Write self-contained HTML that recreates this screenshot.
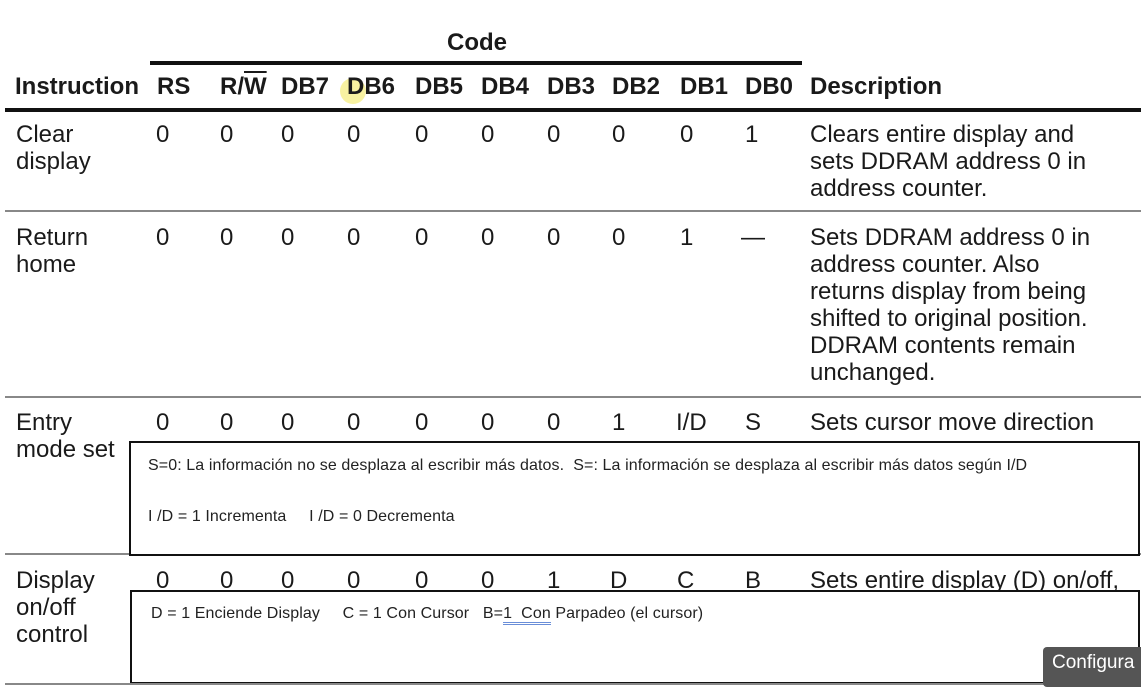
<!DOCTYPE html>
<html><head><meta charset="utf-8"><style>
body{margin:0;width:1141px;height:700px;overflow:hidden;background:#fff;position:relative;font-family:"Liberation Sans",sans-serif;color:#1a1a1a}
.a{position:absolute;white-space:nowrap}
.h{font-weight:bold;font-size:24px;top:73px}
.t{font-size:24px;line-height:27px}
.ln{position:absolute;background:#111}
.sep{position:absolute;left:5px;width:1136px;height:2px;background:#888}
.box{position:absolute;border:2px solid #111;background:#fff;right:1px}
.bx{font-size:16px;letter-spacing:0.1px;color:#222;position:absolute;white-space:nowrap}
</style></head><body>
<div class="a" style="left:340px;top:78px;width:26px;height:26px;border-radius:50%;background:#f6ef8a;opacity:.8"></div>
<div class="a" style="left:447px;top:29px;font-weight:bold;font-size:24px">Code</div>
<div class="ln" style="left:150px;top:61px;width:652px;height:4px"></div>
<div class="a h" style="left:15px">Instruction</div>
<div class="a h" style="left:157px">RS</div>
<div class="a h" style="left:220px">R/<span style="text-decoration:overline">W</span></div>
<div class="a h" style="left:281px">DB7</div>
<div class="a h" style="left:347px">DB6</div>
<div class="a h" style="left:415px">DB5</div>
<div class="a h" style="left:481px">DB4</div>
<div class="a h" style="left:547px">DB3</div>
<div class="a h" style="left:612px">DB2</div>
<div class="a h" style="left:680px">DB1</div>
<div class="a h" style="left:745px">DB0</div>
<div class="a h" style="left:810px">Description</div>
<div class="ln" style="left:5px;top:108px;width:1136px;height:4px"></div>

<!-- row1 -->
<div class="a t" style="left:16px;top:121px">Clear<br>display</div>
<div class="a t" style="top:121px;left:156px">0</div><div class="a t" style="top:121px;left:220px">0</div><div class="a t" style="top:121px;left:281px">0</div><div class="a t" style="top:121px;left:347px">0</div><div class="a t" style="top:121px;left:415px">0</div><div class="a t" style="top:121px;left:481px">0</div><div class="a t" style="top:121px;left:547px">0</div><div class="a t" style="top:121px;left:612px">0</div><div class="a t" style="top:121px;left:680px">0</div><div class="a t" style="top:121px;left:745px">1</div>
<div class="a t" style="left:810px;top:121px">Clears entire display and<br>sets DDRAM address 0 in<br>address counter.</div>
<div class="sep" style="top:210px"></div>

<!-- row2 -->
<div class="a t" style="left:16px;top:224px">Return<br>home</div>
<div class="a t" style="top:224px;left:156px">0</div><div class="a t" style="top:224px;left:220px">0</div><div class="a t" style="top:224px;left:281px">0</div><div class="a t" style="top:224px;left:347px">0</div><div class="a t" style="top:224px;left:415px">0</div><div class="a t" style="top:224px;left:481px">0</div><div class="a t" style="top:224px;left:547px">0</div><div class="a t" style="top:224px;left:612px">0</div><div class="a t" style="top:224px;left:680px">1</div><div class="a t" style="top:224px;left:741px">—</div>
<div class="a t" style="left:810px;top:224px">Sets DDRAM address 0 in<br>address counter. Also<br>returns display from being<br>shifted to original position.<br>DDRAM contents remain<br>unchanged.</div>
<div class="sep" style="top:396px"></div>

<!-- row3 -->
<div class="a t" style="left:16px;top:409px">Entry<br>mode set</div>
<div class="a t" style="top:409px;left:156px">0</div><div class="a t" style="top:409px;left:220px">0</div><div class="a t" style="top:409px;left:281px">0</div><div class="a t" style="top:409px;left:347px">0</div><div class="a t" style="top:409px;left:415px">0</div><div class="a t" style="top:409px;left:481px">0</div><div class="a t" style="top:409px;left:547px">0</div><div class="a t" style="top:409px;left:612px">1</div><div class="a t" style="top:409px;left:676px">I/D</div><div class="a t" style="top:409px;left:745px">S</div>
<div class="a t" style="left:810px;top:409px">Sets cursor move direction</div>
<div class="sep" style="top:553px"></div>
<div class="box" style="left:129px;top:441px;height:111px"></div>
<div class="bx" style="left:148px;top:457px">S=0: La información no se desplaza al escribir más datos.&nbsp; S=: La información se desplaza al escribir más datos según I/D</div>
<div class="bx" style="left:148px;top:508px">I /D = 1 Incrementa &nbsp;&nbsp;&nbsp; I /D = 0 Decrementa</div>

<!-- row4 -->
<div class="a t" style="left:16px;top:567px">Display<br>on/off<br>control</div>
<div class="a t" style="top:567px;left:156px">0</div><div class="a t" style="top:567px;left:220px">0</div><div class="a t" style="top:567px;left:281px">0</div><div class="a t" style="top:567px;left:347px">0</div><div class="a t" style="top:567px;left:415px">0</div><div class="a t" style="top:567px;left:481px">0</div><div class="a t" style="top:567px;left:547px">1</div><div class="a t" style="top:567px;left:610px">D</div><div class="a t" style="top:567px;left:677px">C</div><div class="a t" style="top:567px;left:745px">B</div>
<div class="a t" style="left:810px;top:567px">Sets entire display (D) on/off,</div>
<div class="box" style="left:130px;top:590px;height:90px"></div>
<div class="bx" style="left:151px;top:605px">D = 1 Enciende Display &nbsp;&nbsp;&nbsp; C = 1 Con Cursor &nbsp; B=<span style="border-bottom:3px double #6a8ed8">1&nbsp; Con</span> Parpadeo (el cursor)</div>
<div class="sep" style="top:683px"></div>

<div class="a" style="left:1043px;top:647px;width:110px;height:40px;background:#555;border-radius:4px"></div>
<div class="a" style="left:1052px;top:652px;color:#fff;font-size:19px">Configura</div>
</body></html>
